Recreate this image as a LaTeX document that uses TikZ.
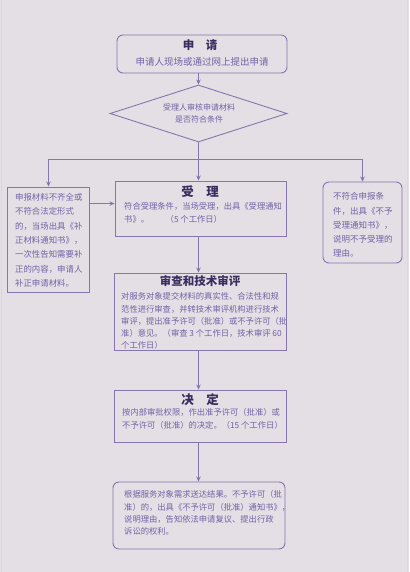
\documentclass[tikz,border=0pt]{standalone}
\usepackage{fontspec}
\newfontfamily\cjk{Noto Sans CJK SC}
\usetikzlibrary{shapes.geometric,arrows.meta,calc}
\definecolor{bg}{HTML}{E3DFE4}
\definecolor{edge}{HTML}{8676B0}
\definecolor{body}{HTML}{7262A6}
\definecolor{ttl}{HTML}{3A2E60}
\begin{document}
\begin{tikzpicture}[x=1pt,y=-1pt,
  box/.style={draw=edge,line width=0.9pt,inner sep=0pt},
  rbox/.style={box,rounded corners=6pt},
  arr/.style={draw=edge,line width=0.9pt,-{Stealth[length=5pt,width=4.5pt]}},
  ln/.style={draw=edge,line width=0.9pt},
  txt/.style={inner sep=0pt,text=body,align=left,font=\cjk\fontsize{8.3}{12.3}\selectfont},
  ttlf/.style={inner sep=0pt,text=ttl,font=\cjk\bfseries\fontsize{11.5}{13}\selectfont}]
\fill[bg] (0,0) rectangle (409,572);
\useasboundingbox (0,0) rectangle (409,572);
\draw[draw=black!15,line width=0.8pt] (1,0) -- (1,572) (407.5,0) -- (407.5,572);
% boxes
\node[rbox,minimum width=170pt,minimum height=38pt] (b1) at (202,54) {};
\node[box,shape=diamond,minimum width=177pt,minimum height=57pt,aspect=3.1] (dia) at (198.5,113.5) {};
\node[box,minimum width=82pt,minimum height=105pt] (lb) at (48.5,239.5) {};
\node[box,minimum width=171pt,minimum height=55pt] (mb) at (200.5,208.5) {};
\node[rbox,minimum width=79pt,minimum height=81pt] (rb) at (362.5,222.5) {};
\node[box,minimum width=172pt,minimum height=77pt] (ab) at (200,311.5) {};
\node[box,minimum width=172pt,minimum height=52pt] (db) at (200,416) {};
\node[rbox,minimum width=172pt,minimum height=67pt] (fb) at (199,515.5) {};
% texts
\node[ttlf] (t1) at (200,45) {申\hspace{1em}请};
\node[txt,font=\cjk\fontsize{9.5}{11}\selectfont] (s1) at (202,61.5) {申请人现场或通过网上提出申请};
\node[txt,align=center,font=\cjk\fontsize{8}{12}\selectfont] (dt) at (199,113) {受理人审核申请材料\\是否符合条件};
\node[txt,anchor=north west,font=\cjk\fontsize{8.4}{14.4}\selectfont] (lt) at (15,193) {申报材料不齐全或\\不符合法定形式\\的，当场出具《补\\正材料通知书》，\\一次性告知需要补\\正的内容，申请人\\补正申请材料。};
\node[ttlf,font=\cjk\bfseries\fontsize{12.5}{14}\selectfont] (t2) at (200,192) {受\hspace{1em}理};
\node[txt,anchor=north west] (mt) at (124,202.5) {符合受理条件，当场受理，出具《受理通知\\书》。\hspace{2em}（5 个工作日）};
\node[txt,anchor=north west,font=\cjk\fontsize{8.5}{14.2}\selectfont] (rt) at (333,192.5) {不符合申报条\\件，出具《不予\\受理通知书》，\\说明不予受理的\\理由。};
\node[ttlf] (t3) at (200,281.5) {审查和技术审评};
\node[txt,anchor=north west] (at) at (121,292.5) {对服务对象提交材料的真实性、合法性和规\\范性进行审查，并转技术审评机构进行技术\\审评，提出准予许可（批准）或不予许可（批\\准）意见。（审查 3 个工作日，技术审评 60\\个工作日）};
\node[ttlf,font=\cjk\bfseries\fontsize{12.5}{14}\selectfont] (t4) at (200,400) {决\hspace{1em}定};
\node[txt,anchor=north west] (dtt) at (122,408.5) {按内部审批权限，作出准予许可（批准）或\\不予许可（批准）的决定。（15 个工作日）};
\node[txt,anchor=north west] (ft) at (124,490.5) {根据服务对象需求送达结果。不予许可（批\\准）的，出具《不予许可（批准）通知书》，\\说明理由，告知依法申请复议、提出行政\\诉讼的权利。};
% connectors
\coordinate (j) at (198.5,159);
\draw[arr] (b1.south -| dia.north) -- (dia.north);
\draw[ln] (dia.south) -- (j);
\draw[arr] (j) -| (lb.north);
\draw[arr] (j) -- (j |- mb.north);
\draw[arr] (j) -| (rb.north);
\draw[arr] ([yshift=-17pt]lb.north east) -- ([yshift=-17pt]lb.north east -| mb.west);
\draw[arr] (mb.south -| dia.south) -- (ab.north -| dia.south);
\draw[arr] (ab.south -| dia.south) -- (db.north -| dia.south);
\draw[arr] (db.south -| dia.south) -- (fb.north -| dia.south);
\end{tikzpicture}
\end{document}
